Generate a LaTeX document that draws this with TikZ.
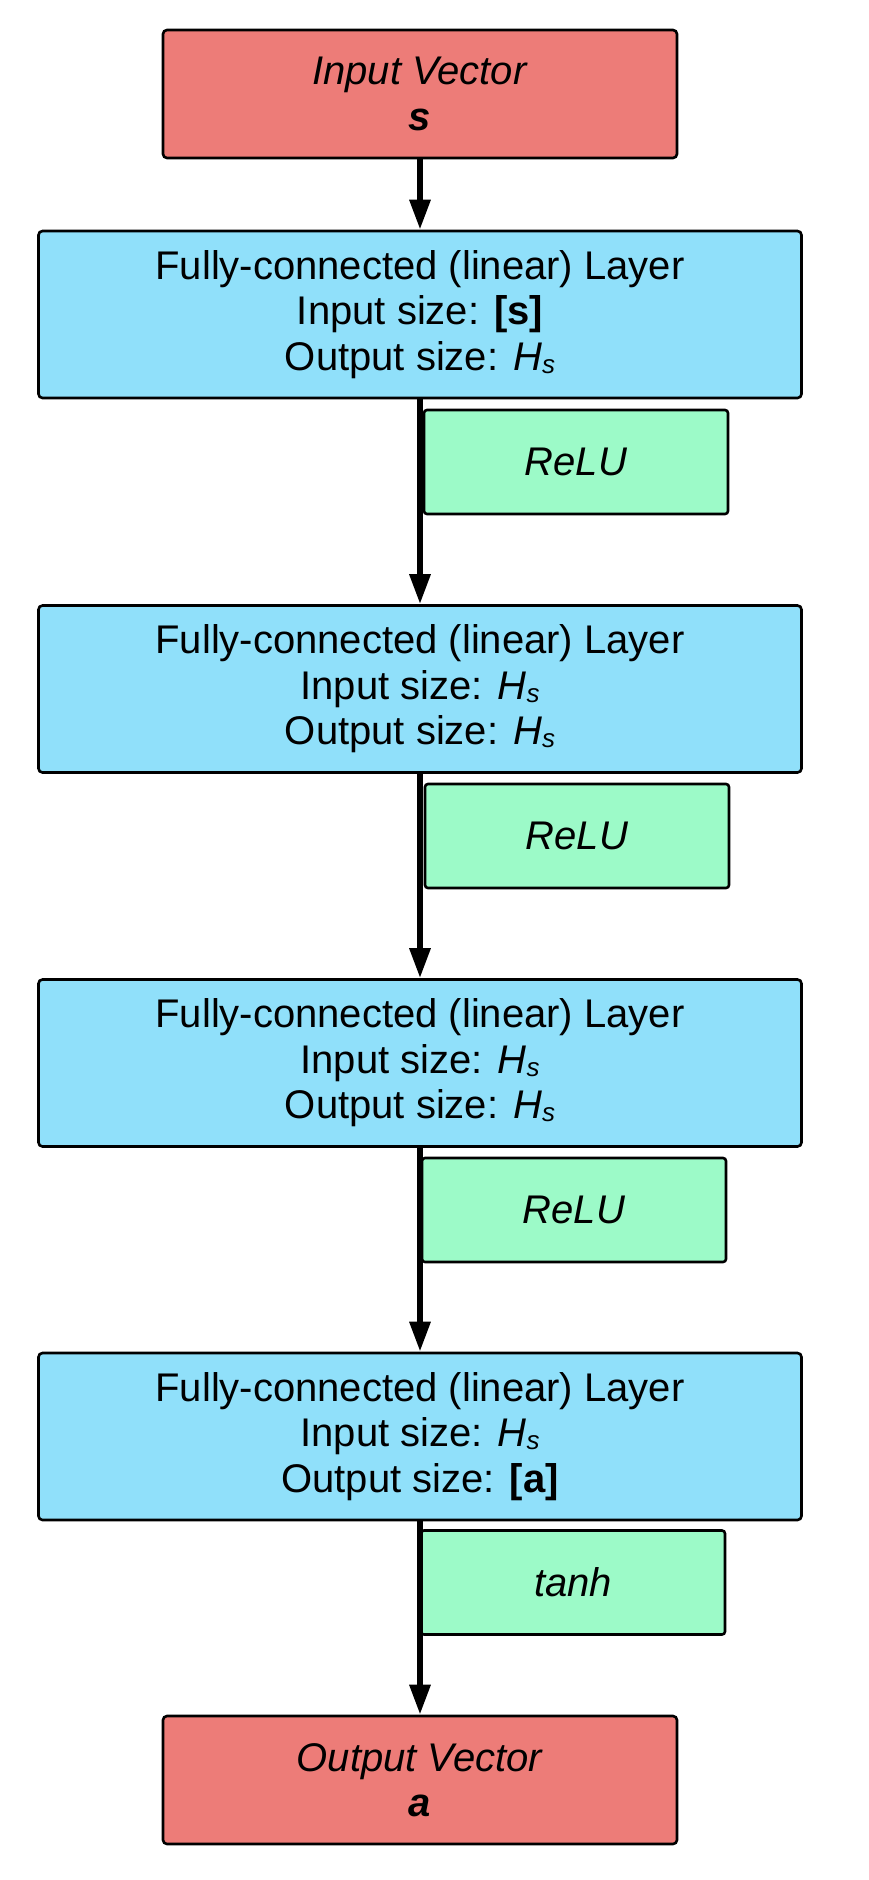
\documentclass[tikz,border=0pt]{standalone}
\usepackage{fontspec}
\setmainfont{Liberation Sans}
\usetikzlibrary{arrows.meta, positioning}

\definecolor{vecred}{RGB}{237,124,120}
\definecolor{layerblue}{RGB}{144,224,250}
\definecolor{actgreen}{RGB}{156,250,200}

\newcommand{\Hsize}{\textit{H}\raisebox{-3pt}{\fontsize{26}{26}\selectfont\textit{s}}}

\begin{document}
\begin{tikzpicture}[x=1pt, y=-1pt,
    vecbox/.style={draw, line width=2.6pt, fill=vecred, rounded corners=4pt, minimum width=514pt, minimum height=128pt, align=center, font=\fontsize{40}{45.5}\selectfont},
    layerbox/.style={draw, line width=2.6pt, fill=layerblue, rounded corners=4pt, minimum width=763pt, minimum height=167pt, align=center, font=\fontsize{40}{45.5}\selectfont},
    actbox/.style={draw, line width=2.6pt, fill=actgreen, rounded corners=3pt, minimum width=304pt, minimum height=104pt, font=\fontsize{40}{45.5}\selectfont\itshape},
    flow/.style={line width=6pt, -{Triangle[length=30pt, width=20pt]}}]
    \useasboundingbox (0,0) rectangle (869,1880);

    % Input and output vectors
    \node[vecbox] (invec) at (420,94) {\textit{Input Vector}\\\textbf{\textit{s}}};
    \node[vecbox] (outvec) at (420,1780) {\textit{Output Vector}\\\textbf{\textit{a}}};

    % Fully-connected layers
    \node[layerbox] (fc1) at (420,314.5) {Fully-connected (linear) Layer\\Input size: \textbf{[s]}\\Output size: \Hsize};
    \node[layerbox] (fc2) at (420,689) {Fully-connected (linear) Layer\\Input size: \Hsize\\Output size: \Hsize};
    \node[layerbox] (fc3) at (420,1063) {Fully-connected (linear) Layer\\Input size: \Hsize\\Output size: \Hsize};
    \node[layerbox] (fc4) at (420,1436.5) {Fully-connected (linear) Layer\\Input size: \Hsize\\Output size: \textbf{[a]}};

    % Activations
    \node[actbox] (act1) at (576,462) {ReLU};
    \node[actbox] (act2) at (577,836) {ReLU};
    \node[actbox] (act3) at (574,1210) {ReLU};
    \node[actbox] (act4) at (573,1582.5) {tanh};

    % Connecting arrows
    \draw[flow] (invec) -- (fc1);
    \draw[flow] (fc1) -- (fc2);
    \draw[flow] (fc2) -- (fc3);
    \draw[flow] (fc3) -- (fc4);
    \draw[flow] (fc4) -- (outvec);
\end{tikzpicture}
\end{document}
